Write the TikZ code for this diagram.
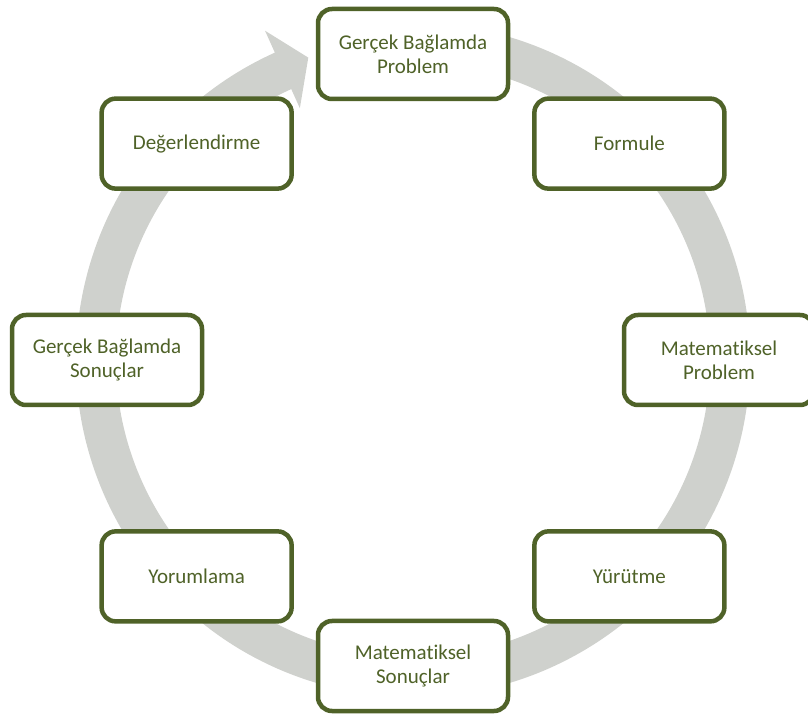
\documentclass[tikz,border=0pt]{standalone}
\usepackage{fontspec}
\setmainfont[Ligatures={NoCommon}]{Carlito}
\definecolor{boxgreen}{HTML}{4F6228}
\definecolor{ringgray}{HTML}{CFD1CD}
\begin{document}
\begin{tikzpicture}[x=1pt,y=1pt,
  stagebox/.style={draw=boxgreen, line width=4.5pt, rounded corners=14pt, fill=white,
    minimum width=190pt, minimum height=90pt, align=center, text=boxgreen,
    font=\fontsize{21}{24}\selectfont, inner sep=0pt}]
\useasboundingbox (0,0) rectangle (808,720);
\begin{scope}[shift={(413,360)}]
  \fill[ringgray] (80:337) arc[start angle=80, end angle=-245.8, radius=337]
    -- (-245.8:361) -- (-250.9:320) -- (-245.8:276) -- (-245.8:297)
    arc[start angle=-245.8, end angle=80, radius=297] -- cycle;
  \node[stagebox] (p1) at (90:306) {Gerçek Bağlamda\\Problem};
  \node[stagebox] (p2) at (45:306) {Formule};
  \node[stagebox] (p3) at (0:306) {Matematiksel\\Problem};
  \node[stagebox] (p4) at (-45:306) {Yürütme};
  \node[stagebox] (p5) at (-90:306) {Matematiksel\\Sonuçlar};
  \node[stagebox] (p6) at (-135:306) {Yorumlama};
  \node[stagebox] (p7) at (180:306) {Gerçek Bağlamda\\Sonuçlar};
  \node[stagebox] (p8) at (135:306) {Değerlendirme};
\end{scope}
\end{tikzpicture}
\end{document}
